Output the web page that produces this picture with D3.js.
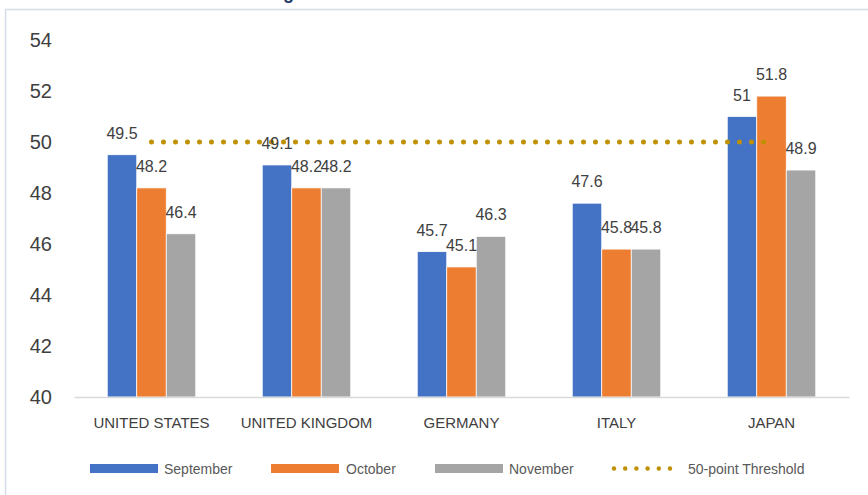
<!DOCTYPE html>
<html><head><meta charset="utf-8">
<script src="https://cdn.jsdelivr.net/npm/d3@7"></script>
<style>body{margin:0;background:#fff;}svg{display:block;font-family:"Liberation Sans",Arial,sans-serif;}</style>
</head><body>
<svg id="c" width="868" height="495"></svg>
<script>
const categories = ["UNITED STATES","UNITED KINGDOM","GERMANY","ITALY","JAPAN"];
const september = [49.5,49.1,45.7,47.6,51];
const october = [48.2,48.2,45.1,45.8,51.8];
const november = [46.4,48.2,46.3,45.8,48.9];
const threshold = [50,50,50,50,50];
const seriesNames = ["September","October","November"];
const yTicks = [40,42,44,46,48,50,52,54];
const colors = ["#4472C4","#ED7D31","#A5A5A5"];
const lineColor = "#BF9000";

const svg = d3.select("#c");
// outer frame
svg.append("rect").attr("x",5.5).attr("y",9.5).attr("width",900).attr("height",600)
  .attr("fill","none").attr("stroke","#D6DCE8").attr("stroke-width",1.5);

// clipped title (only a descender shows)
const title = svg.append("text").attr("y",-1).attr("font-size",18).attr("font-weight","bold")
  .attr("fill","#1F3864").text("Manufacturing PMI");
const sub = title.node().getSubStringLength(0,12);
title.attr("x", 283 - sub);

const x = d3.scaleBand().domain(categories).range([74,849]).paddingInner(0).paddingOuter(0);
const y = d3.scaleLinear().domain([40,54]).range([397,40]);
const inner = d3.scaleBand().domain(seriesNames).range([0,88.5]);
const groupOff = (x.bandwidth()-88.5)/2;

// y axis labels
const yAxis = d3.axisLeft(y).tickValues(yTicks).tickSize(0).tickPadding(0);
const ya = svg.append("g").attr("transform","translate(52,0)").call(yAxis);
ya.select(".domain").remove();
ya.selectAll("text").attr("font-size",20).attr("fill","#404040").attr("font-family","Liberation Sans, Arial, sans-serif");

// bars
const data = [september, october, november];
data.forEach((vals,si)=>{
  const g = svg.append("g");
  g.selectAll("rect").data(vals).join("rect")
    .attr("x",(d,i)=>x(categories[i])+groupOff+inner(seriesNames[si]))
    .attr("y",d=>y(d))
    .attr("width",inner.bandwidth())
    .attr("height",d=>y(40)-y(d))
    .attr("fill",colors[si]).attr("stroke","#fff").attr("stroke-width",0.75);
});

// x axis line + labels
const xAxis = d3.axisBottom(x).tickSize(0).tickPadding(0);
const xa = svg.append("g").attr("transform","translate(0,397)").call(xAxis);
xa.select(".domain").attr("stroke","#D9D9D9").attr("stroke-width",1.5);
xa.selectAll("text").attr("font-size",15).attr("fill","#404040").attr("dy",null).attr("y",31)
  .attr("font-family","Liberation Sans, Arial, sans-serif");

// threshold line
const line = d3.line().x((d,i)=>x(categories[i])+x.bandwidth()/2).y(d=>y(d));
svg.append("path").datum(threshold).attr("d",line).attr("fill","none")
  .attr("stroke",lineColor).attr("stroke-width",5).attr("stroke-linecap","round")
  .attr("stroke-dasharray","0 12");

// data labels
data.forEach((vals,si)=>{
  svg.append("g").selectAll("text").data(vals).join("text")
    .attr("x",(d,i)=>x(categories[i])+groupOff+inner(seriesNames[si])+inner.bandwidth()/2)
    .attr("y",d=>y(d)-16)
    .attr("text-anchor","middle").attr("font-size",16).attr("fill","#404040")
    .text(d=>d);
});

// legend
const legend = [
  {name:"September",type:"rect",color:colors[0],x:90,tx:164},
  {name:"October",type:"rect",color:colors[1],x:271,tx:346},
  {name:"November",type:"rect",color:colors[2],x:435,tx:509},
  {name:"50-point Threshold",type:"line",color:lineColor,x:612,tx:688}
];
legend.forEach(l=>{
  if(l.type==="rect"){
    svg.append("rect").attr("x",l.x).attr("y",464).attr("width",68).attr("height",9).attr("fill",l.color);
  } else {
    svg.append("line").attr("x1",l.x+2).attr("x2",l.x+68).attr("y1",468.5).attr("y2",468.5)
      .attr("stroke",l.color).attr("stroke-width",4.5).attr("stroke-linecap","round").attr("stroke-dasharray","0 11.2");
  }
  svg.append("text").attr("x",l.tx).attr("y",473.5).attr("font-size",14).attr("fill","#595959").text(l.name);
});
</script>
</body></html>
